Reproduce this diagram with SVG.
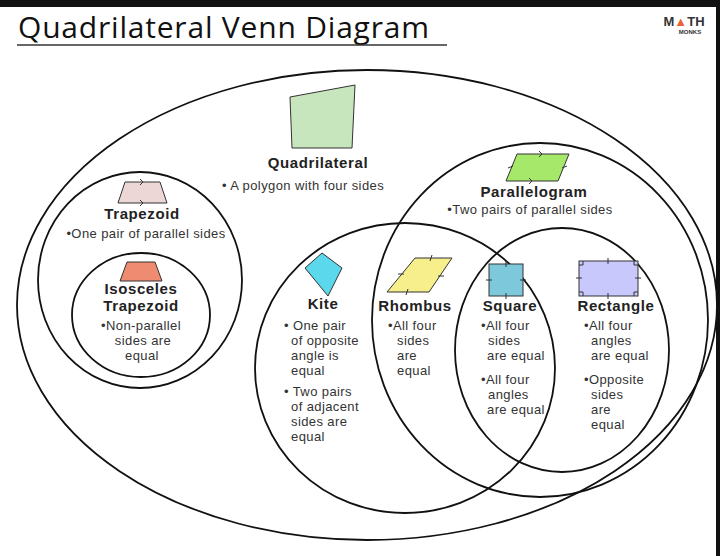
<svg xmlns="http://www.w3.org/2000/svg" width="720" height="556" viewBox="0 0 720 556">
<style>
.c{fill:none;stroke:#111;stroke-width:1.8}
.s{stroke:#333;stroke-width:1}
.tk{stroke:#333;stroke-width:1;fill:none}
.h{font-family:"Liberation Sans",Arial,sans-serif;font-weight:bold;font-size:15px;fill:#222;text-anchor:middle;letter-spacing:0.6px}
.t{font-family:"Liberation Sans",Arial,sans-serif;font-size:13px;fill:#333;letter-spacing:0.4px}
.m{text-anchor:middle}
</style>
<rect width="720" height="556" fill="#fff"/>
<rect x="0" y="0" width="720" height="7" fill="#111"/>
<rect x="716" y="0" width="4" height="556" fill="#111"/>
<g id="title">
<text x="18" y="38" font-family="Open Sans,sans-serif" font-size="30" fill="#111" letter-spacing="0.8">Quadrilateral Venn Diagram</text>
<line x1="17" y1="45" x2="447" y2="45" stroke="#333" stroke-width="1.5"/>
</g>
<g id="logo" font-family="Liberation Sans,Arial,sans-serif" font-weight="bold" text-anchor="middle">
<text x="684" y="26" font-size="13" fill="#333">M<tspan fill="#e8623a">▲</tspan>TH</text>
<text x="690" y="34" font-size="6" fill="#333">MONKS</text>
</g>
<g id="connectors">
<ellipse class="c" cx="367" cy="305" rx="350" ry="235"/>
<ellipse class="c" cx="140" cy="280" rx="102" ry="108"/>
<ellipse class="c" cx="141" cy="315" rx="69" ry="62"/>
<ellipse class="c" cx="405" cy="368" rx="150" ry="145"/>
<ellipse class="c" cx="540" cy="320" rx="168" ry="177"/>
<ellipse class="c" cx="562" cy="350" rx="107" ry="122"/>
</g>
<g id="quadrilateral">
<polygon points="290,97 355,85 352,148 292,148" fill="#c8e6bd" class="s"/>
<text class="h" x="318" y="168">Quadrilateral</text>
<text class="t" x="222" y="190">•  A polygon with four sides</text>
</g>
<g id="trapezoid">
<polygon points="125,182 160,182 167,203 118,203" fill="#ecd6d6" class="s"/>
<path class="tk" d="M140,179 l3,3 l-3,3 M140,200 l3,3 l-3,3"/>
<text class="h" x="142" y="219">Trapezoid</text>
<text class="t m" x="146" y="238">•One pair of parallel sides</text>
</g>
<g id="isosceles">
<polygon points="127,262 155,262 162,281 120,281" fill="#ef8b70" class="s"/>
<text class="h" x="141" y="294">Isosceles</text>
<text class="h" x="141" y="311">Trapezoid</text>
<text class="t m" x="141" y="330">•Non-parallel</text>
<text class="t m" x="143" y="345">sides are</text>
<text class="t m" x="142" y="360">equal</text>
</g>
<g id="kite">
<polygon points="322,253 342,268 328,296 305,268" fill="#5cd8ec" class="s"/>
<text class="h" x="323" y="309">Kite</text>
<text class="t" x="284" y="330">• One pair</text>
<text class="t" x="291" y="345">of opposite</text>
<text class="t" x="291" y="360">angle is</text>
<text class="t" x="291" y="375">equal</text>
<text class="t" x="284" y="396">• Two pairs</text>
<text class="t" x="291" y="411">of adjacent</text>
<text class="t" x="291" y="426">sides are</text>
<text class="t" x="291" y="441">equal</text>
</g>
<g id="rhombus">
<polygon points="415,258 452,258 429,292 387,292" fill="#f6ef8c" class="s"/>
<path class="tk" d="M432,255 l-2,6 M408,289 l-2,6 M398,274 l6,0 M438,276 l6,0"/>
<text class="h" x="415" y="311">Rhombus</text>
<text class="t" x="388" y="330">•All four</text>
<text class="t" x="397" y="345">sides</text>
<text class="t" x="397" y="360">are</text>
<text class="t" x="397" y="375">equal</text>
</g>
<g id="square">
<rect x="489" y="264" width="34" height="32" fill="#7ec8dc" class="s"/>
<path class="tk" d="M506,261 v6 M506,293 v6 M486,280 h6 M520,280 h6"/>
<text class="h" x="510" y="311">Square</text>
<text class="t" x="481" y="330">•All four</text>
<text class="t" x="488" y="345">sides</text>
<text class="t" x="487" y="360">are equal</text>
<text class="t" x="481" y="384">•All four</text>
<text class="t" x="488" y="399">angles</text>
<text class="t" x="487" y="414">are equal</text>
</g>
<g id="rectangle">
<rect x="579" y="261" width="59" height="35" fill="#c8c8fc" class="s"/>
<path class="tk" d="M608,258 v6 M608,293 v6 M576,278 h6 M635,278 h6 M579,265 h4 v-4 M638,265 h-4 v-4 M579,292 h4 v4 M638,292 h-4 v4"/>
<text class="h" x="616" y="311">Rectangle</text>
<text class="t" x="584" y="330">•All four</text>
<text class="t" x="591" y="345">angles</text>
<text class="t" x="591" y="360">are equal</text>
<text class="t" x="584" y="384">•Opposite</text>
<text class="t" x="591" y="399">sides</text>
<text class="t" x="591" y="414">are</text>
<text class="t" x="591" y="429">equal</text>
</g>
<g id="parallelogram">
<polygon points="517,154 569,154 558,181 506,181" fill="#a6e86a" class="s"/>
<path class="tk" d="M539,151 l3,3 l-3,3 M529,178 l3,3 l-3,3 M508,168 l5,-2 M562,168 l5,-2"/>
<text class="h" x="534" y="197">Parallelogram</text>
<text class="t m" x="530" y="214">•Two pairs of parallel sides</text>
</g>
</svg>
